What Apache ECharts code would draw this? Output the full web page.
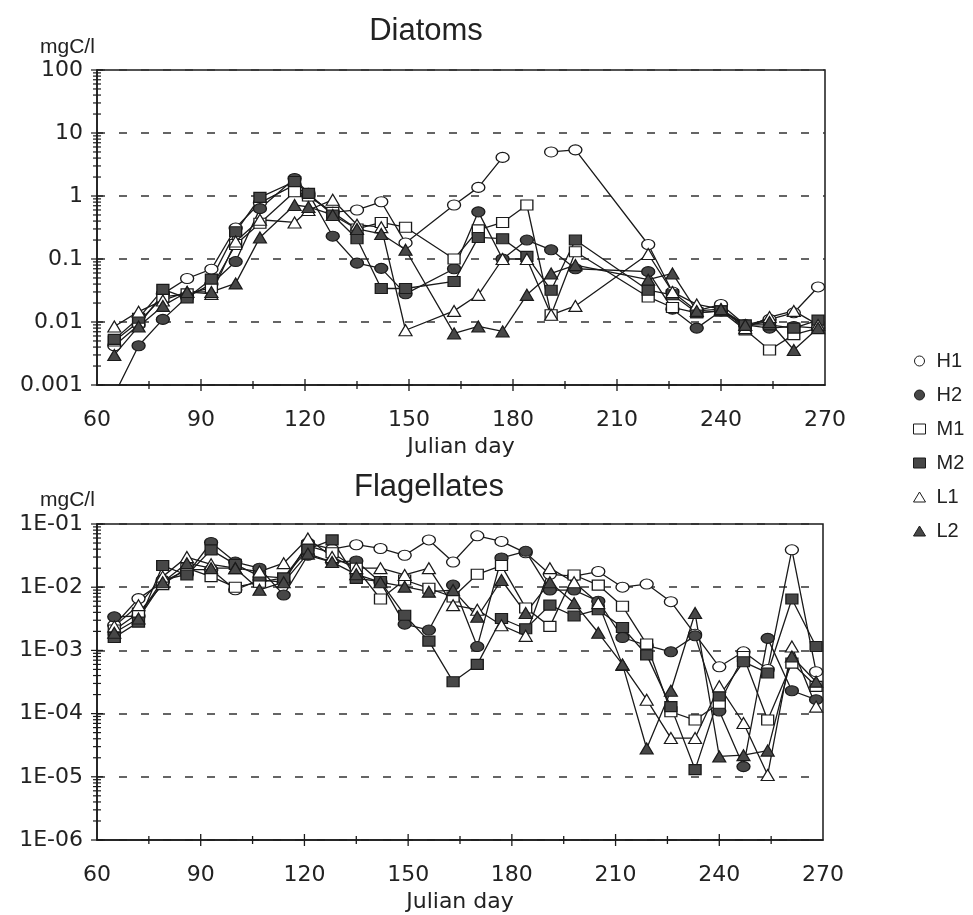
<!DOCTYPE html>
<html>
<head>
<meta charset="utf-8">
<script src="https://cdn.jsdelivr.net/npm/echarts@6/dist/echarts.min.js"></script>
<style>
html,body{margin:0;padding:0;background:#fff;}
#chart{width:973px;height:915px;}
</style>
</head>
<body>
<div id="chart"></div>
<script>
// ---- Data ----
var stations = ['H1', 'H2', 'M1', 'M2', 'L1', 'L2'];

// Diatoms (mgC/l)
var daysDiatoms = [65,72,79,86,93,100,107,117,121,128,135,142,149,163,170,177,184,191,198,219,226,233,240,247,254,261,268];
var diatH1 = [0.0042,0.009,0.028,0.049,0.069,0.31,0.78,1.5,1.0,0.55,0.6,0.81,0.18,0.72,1.37,4.1,null,5.0,5.4,0.17,0.03,0.015,0.019,0.009,0.011,0.014,0.036];
var diatH2 = [0.0007,0.0042,0.011,0.025,0.04,0.091,0.63,1.9,1.1,0.23,0.086,0.071,0.028,0.07,0.56,0.1,0.2,0.14,0.07,0.063,0.016,0.008,0.015,0.009,0.008,0.0085,0.008];
var diatM1 = [0.005,0.01,0.025,0.028,0.035,0.17,0.37,1.17,1.0,0.55,0.3,0.38,0.32,0.1,0.29,0.38,0.72,0.013,0.13,0.025,0.017,0.014,0.015,0.0075,0.0036,0.0063,0.008];
var diatM2 = [0.0053,0.0115,0.033,0.024,0.048,0.27,0.95,1.7,1.1,0.5,0.21,0.034,0.034,0.044,0.22,0.21,0.11,0.032,0.2,0.032,0.027,0.014,0.015,0.009,0.009,0.008,0.0107];
var diatL1 = [0.0085,0.0146,0.022,0.03,0.028,0.19,0.42,0.38,0.6,0.87,0.35,0.32,0.0074,0.015,0.027,0.1,0.1,0.013,0.018,0.12,0.03,0.019,0.016,0.008,0.012,0.015,0.009];
var diatL2 = [0.003,0.0085,0.018,0.03,0.03,0.041,0.22,0.72,0.67,0.5,0.3,0.25,0.14,0.0066,0.0085,0.0071,0.027,0.059,0.08,0.047,0.059,0.015,0.016,0.009,0.01,0.0036,0.008];

// Flagellates (mgC/l)
var daysFlag = [65,72,79,86,93,100,107,114,121,128,135,142,149,156,163,170,177,184,191,198,205,212,219,226,233,240,247,254,261,268];
var flagH1 = [0.0025,0.0066,0.012,0.019,0.019,0.0091,0.013,0.012,0.05,0.04,0.047,0.041,0.032,0.056,0.025,0.065,0.053,0.035,0.016,0.015,0.0177,0.01,0.0112,0.0059,0.0018,0.00055,0.00095,0.0005,0.039,0.00046];
var flagH2 = [0.0034,0.0035,0.013,0.016,0.051,0.025,0.02,0.0075,0.032,0.025,0.026,0.012,0.0026,0.0021,0.0108,0.00115,0.029,0.037,0.009,0.009,0.006,0.0016,0.0012,0.00095,0.0017,0.00011,0.0000145,0.00155,0.00023,0.000166];
var flagM1 = [0.0021,0.0039,0.011,0.02,0.0147,0.01,0.012,0.014,0.045,0.035,0.02,0.0065,0.013,0.0096,0.007,0.016,0.022,0.0047,0.0024,0.0156,0.0108,0.005,0.00126,0.000107,0.000079,0.000146,0.0008,0.000079,0.00063,0.00027];
var flagM2 = [0.0016,0.0028,0.022,0.0156,0.039,0.023,0.015,0.014,0.04,0.056,0.0138,0.0123,0.0036,0.0014,0.00032,0.0006,0.0032,0.0022,0.0052,0.0035,0.0044,0.0023,0.00085,0.000129,0.000013,0.00019,0.00066,0.00044,0.0065,0.00115];
var flagL1 = [0.0024,0.0052,0.0147,0.03,0.023,0.02,0.0177,0.024,0.059,0.03,0.02,0.02,0.0156,0.02,0.0052,0.0044,0.0025,0.0017,0.02,0.012,0.0056,0.00059,0.000166,0.000041,0.000041,0.00027,0.000071,0.0000107,0.00115,0.000129];
var flagL2 = [0.0019,0.0032,0.012,0.024,0.02,0.02,0.0091,0.012,0.034,0.025,0.016,0.012,0.0102,0.0085,0.009,0.0034,0.013,0.0039,0.012,0.0056,0.0019,0.0006,0.000028,0.00023,0.0039,0.000021,0.000022,0.000026,0.0008,0.00032];

// Axis tick labels
var diatTickLabels = ['0.001','0.01','0.1','1','10','100'];
var flagTickLabels = ['1E-06','1E-05','1E-04','1E-03','1E-02','1E-01'];
var xTickLabels = ['60','90','120','150','180','210','240','270'];
var minorMultipliers = [2,3,4,5,6,7,8,9];

// ---- Styles ----
var INK = '#1a1a1a';
var FILL = '#474747';
var symbols = {
  H1: {symbol:'circle', fill:'#ffffff'},
  H2: {symbol:'circle', fill:FILL},
  M1: {symbol:'rect', fill:'#ffffff'},
  M2: {symbol:'rect', fill:FILL},
  L1: {symbol:'triangle', fill:'#ffffff'},
  L2: {symbol:'triangle', fill:FILL}
};
var symSize = {circle:[13,10], rect:[12,10], triangle:[13,11]};

var diatData = {H1:diatH1,H2:diatH2,M1:diatM1,M2:diatM2,L1:diatL1,L2:diatL2};
var flagData = {H1:flagH1,H2:flagH2,M1:flagM1,M2:flagM2,L1:flagL1,L2:flagL2};

function pairs(days, vals){
  return days.map(function(d,i){ return [d, vals[i]]; });
}

var series = [];
function addPanel(dataMap, days, idx){
  stations.forEach(function(st){
    var s = symbols[st];
    series.push({
      name: st,
      type: 'line',
      xAxisIndex: idx, yAxisIndex: idx,
      data: pairs(days, dataMap[st]),
      symbol: s.symbol,
      symbolSize: symSize[s.symbol],
      showAllSymbol: true,
      connectNulls: false,
      clip: true,
      animation: false,
      lineStyle: {color: INK, width: 1.3},
      itemStyle: {color: s.fill, borderColor: INK, borderWidth: 1.2, opacity: 1},
      emphasis: {disabled: true},
      z: 3
    });
  });
}
addPanel(diatData, daysDiatoms, 0);
addPanel(flagData, daysFlag, 1);

// Log minor ticks on the y axes (crossing the axis line)
function logTicks(minExp, maxExp){
  var out = [];
  for (var e = minExp; e <= maxExp; e++){
    out.push([60, Math.pow(10, e), 1]);
    if (e < maxExp) minorMultipliers.forEach(function(m){ out.push([60, m*Math.pow(10, e), 0]); });
  }
  return out;
}
function tickRender(params, api){
  var p = api.coord([api.value(0), api.value(1)]);
  var major = api.value(2) === 1;
  var half = major ? 6 : 4;
  return {type:'line', shape:{x1:p[0]-half, y1:p[1], x2:p[0]+half, y2:p[1]},
          style:{stroke:INK, lineWidth:1.2}, silent:true};
}
// x-axis ticks crossing the axis line
var xTickDays = [75,90,105,120,135,150,165,180,195,210,225,240,255];
function xTickData(minY){ return xTickDays.map(function(d){ return [d, minY, d % 30 === 0 ? 1 : 0]; }); }
function xTickRender(params, api){
  var p = api.coord([api.value(0), api.value(1)]);
  var major = api.value(2) === 1;
  var up = major ? 6 : 4, down = major ? 6 : 4;
  return {type:'line', shape:{x1:p[0], y1:p[1]-up, x2:p[0], y2:p[1]+down},
          style:{stroke:INK, lineWidth:1.3}, silent:true};
}
series.push({type:'custom', xAxisIndex:0, yAxisIndex:0, data:logTicks(-3,2), renderItem:tickRender, silent:true, clip:false, z:5, animation:false});
series.push({type:'custom', xAxisIndex:1, yAxisIndex:1, data:logTicks(-6,-1), renderItem:tickRender, silent:true, clip:false, z:5, animation:false});
series.push({type:'custom', xAxisIndex:0, yAxisIndex:0, data:xTickData(0.001), renderItem:xTickRender, silent:true, clip:false, z:5, animation:false});
series.push({type:'custom', xAxisIndex:1, yAxisIndex:1, data:xTickData(1e-6), renderItem:xTickRender, silent:true, clip:false, z:5, animation:false});

var labelFont = 'DejaVu Sans';
function xAxis(idx){
  return {
    gridIndex: idx, type:'value', min:60, max:270, interval:30,
    axisLine:{show:true, onZero:false, lineStyle:{color:INK, width:1.5}},
    axisTick:{show:false},
    splitLine:{show:false},
    axisLabel:{color:'#222', fontFamily:labelFont, fontSize:22, margin:24,
      formatter:function(v){ return xTickLabels[Math.round((v-60)/30)]; }},
    name:'Julian day', nameLocation:'middle', nameGap:51,
    nameTextStyle:{color:'#222', fontFamily:labelFont, fontSize:22}
  };
}
function yAxis(idx, min, max, labels, minExp){
  return {
    gridIndex: idx, type:'log', logBase:10, min:min, max:max,
    axisLine:{show:true, lineStyle:{color:INK, width:1.5}},
    axisTick:{show:false},
    splitLine:{show:true, lineStyle:{color:'#333', width:1.6, type:[8,14]}},
    axisLabel:{color:'#222', fontFamily:labelFont, fontSize:22, margin:14,
      formatter:function(v){ return labels[Math.round(Math.log10(v)) - minExp]; }}
  };
}

var titleFont = 'Liberation Sans';
var option = {
  backgroundColor:'#ffffff',
  animation:false,
  title:[
    {text:'Diatoms', left:421, top:11, textAlign:'center', textStyle:{fontFamily:titleFont, fontSize:31, fontWeight:'normal', color:'#222'}},
    {text:'mgC/l', left:35, top:32, textStyle:{fontFamily:titleFont, fontSize:21, fontWeight:'normal', color:'#222'}},
    {text:'Flagellates', left:424, top:467, textAlign:'center', textStyle:{fontFamily:titleFont, fontSize:31, fontWeight:'normal', color:'#222'}},
    {text:'mgC/l', left:35, top:485, textStyle:{fontFamily:titleFont, fontSize:21, fontWeight:'normal', color:'#222'}}
  ],
  grid:[
    {left:97, top:70, width:728, height:315, show:true, borderColor:INK, borderWidth:1.5, backgroundColor:'transparent'},
    {left:97, top:524, width:726, height:316, show:true, borderColor:INK, borderWidth:1.5, backgroundColor:'transparent'}
  ],
  xAxis:[xAxis(0), xAxis(1)],
  yAxis:[
    yAxis(0, 0.001, 100, diatTickLabels, -3),
    yAxis(1, 1e-6, 0.1, flagTickLabels, -6)
  ],
  legend:{
    orient:'vertical', left:908, top:346, itemWidth:12, itemHeight:10, itemGap:14,
    selectedMode:false,
    textStyle:{fontFamily:titleFont, fontSize:20, color:'#222', padding:[0,0,0,6]},
    data: stations.map(function(st){
      var s = symbols[st];
      return {name:st, icon:s.symbol, itemStyle:{color:s.fill, borderColor:INK, borderWidth:1}};
    })
  },
  series: series
};

var chart = echarts.init(document.getElementById('chart'), null, {renderer:'canvas'});
chart.setOption(option);
</script>
</body>
</html>
